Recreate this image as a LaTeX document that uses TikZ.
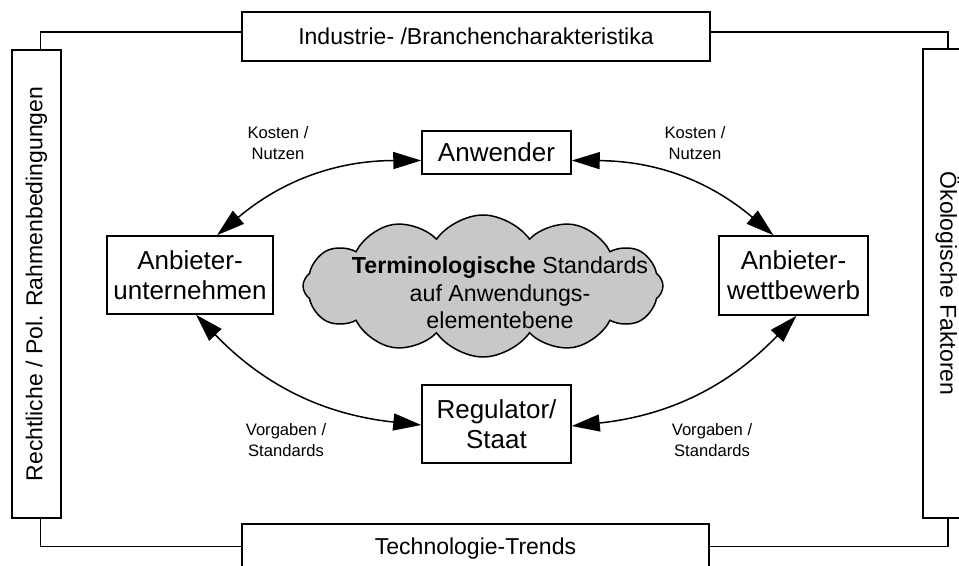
\documentclass[tikz,border=0pt]{standalone}
\usepackage{fontspec}
\setmainfont{Liberation Sans}
\usetikzlibrary{arrows.meta, shapes.symbols}
\definecolor{cloudgray}{HTML}{C8C8C8}

\begin{document}
\begin{tikzpicture}[x=0.5pt, y=-0.5pt,
    every node/.style={font=\fontsize{13}{15}\selectfont},
    frame/.style={draw, line width=0.75pt, fill=white, inner sep=0pt, align=center,
      font=\fontsize{11.5}{13}\selectfont},
    actor/.style={draw, line width=0.75pt, fill=white, inner sep=0pt, align=center,
      minimum width=74.5pt},
    lbl/.style={align=center, font=\fontsize{8.3}{10.2}\selectfont},
    link/.style={line width=0.75pt,
      {Triangle[length=14pt, width=8.5pt]}-{Triangle[length=14pt, width=8.5pt]}},
    wire/.style={line width=0.75pt}]
  \useasboundingbox (0,0) rectangle (959,566);
  \clip (0,0) rectangle (959,566);

  % outer factors
  \node[frame, minimum width=234pt, minimum height=24.5pt]
    (ind) at (476,36.5) {Industrie- /Branchencharakteristika};
  \node[frame, minimum width=233.5pt, minimum height=24.5pt]
    (tech) at (475.5,548.5) {Technologie-Trends};
  \node[frame, minimum width=24.5pt, minimum height=234pt]
    (recht) at (36.5,284) {\rotatebox{90}{Rechtliche / Pol. Rahmenbedingungen}};
  \node[frame, minimum width=24.5pt, minimum height=234.5pt]
    (oeko) at (947.5,283.5) {\rotatebox{-90}{Ökologische Faktoren}};

  \draw[wire] ([xshift=2.1pt]recht.north) |- ([yshift=2.2pt]ind.west);
  \draw[wire] ([yshift=2.2pt]ind.east) -| ([xshift=0.25pt]oeko.north);
  \draw[wire] ([xshift=2.1pt]recht.south) |- ([yshift=1pt]tech.west);
  \draw[wire] ([yshift=1pt]tech.east) -| ([xshift=0.25pt]oeko.south);

  % actors
  \node[actor, minimum height=21.5pt] (anw) at (496.5,152.5) {Anwender};
  \node[actor, minimum width=83pt, minimum height=39pt]
    (unt) at (190,275) {Anbieter-\\unternehmen};
  \node[actor, minimum height=39.5pt] (wett) at (793.5,275.5) {Anbieter-\\wettbewerb};
  \node[actor, minimum height=39pt] (reg) at (496.5,424) {Regulator/\\Staat};

  % standards cloud
  \node[cloud, cloud puffs=12, cloud puff arc=110, cloud ignores aspect, draw,
    line width=0.75pt, fill=cloudgray, inner sep=0pt,
    minimum width=180pt, minimum height=71pt] (std) at (483,286) {};
  \node[align=center, font=\fontsize{11.6}{13.75}\selectfont]
    (stdtext) at ([xshift=8.5pt, yshift=-3.5pt]std.center)
    {\textbf{Terminologische} Standards\\auf Anwendungs-\\elementebene};

  % relations
  \draw[link] ([xshift=13.5pt]unt.north) to[bend left=20] ([yshift=-4pt]anw.west);
  \draw[link] ([yshift=-4pt]anw.east) to[bend left=20] ([xshift=-10pt]wett.north);
  \draw[link] ([xshift=3pt]unt.south) to[bend right=20] ([yshift=-0.5pt]reg.west);
  \draw[link] ([xshift=1.5pt]wett.south) to[bend left=20] ([yshift=-1pt]reg.east);

  \node[lbl] (kn1) at (278,143) {Kosten /\\Nutzen};
  \node[lbl] (kn2) at (695,143) {Kosten /\\Nutzen};
  \node[lbl] (vs1) at (286,440) {Vorgaben /\\Standards};
  \node[lbl] (vs2) at (712,440) {Vorgaben /\\Standards};
\end{tikzpicture}
\end{document}
